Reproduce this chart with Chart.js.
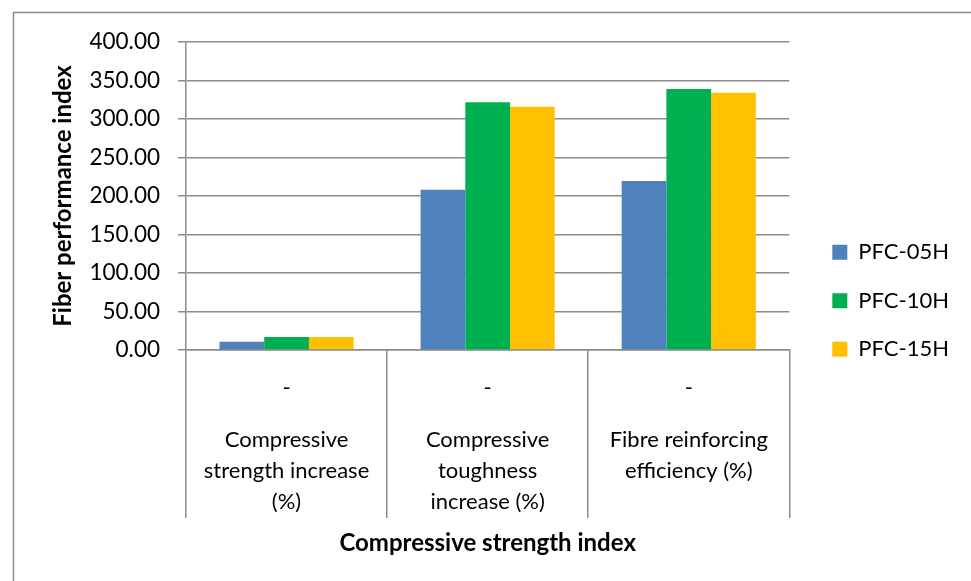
<!DOCTYPE html>
<html>
<head>
<meta charset="utf-8">
<script src="https://cdn.jsdelivr.net/npm/chart.js@4/dist/chart.umd.min.js"></script>
<style>
  html, body { margin: 0; padding: 0; background: #ffffff; }
  #wrap { width: 971px; height: 581px; position: relative; }
</style>
</head>
<body>
<div id="wrap"><canvas id="chart" width="971" height="581"></canvas></div>
<script>
// Upper label row of the category axis
const groupLabels = ['-', '-', '-'];
// Lower label row of the category axis
const categories = [
  ['Compressive', 'strength increase', '(%)'],
  ['Compressive', 'toughness', 'increase (%)'],
  ['Fibre reinforcing', 'efficiency (%)']
];
const seriesNames = ['PFC-05H', 'PFC-10H', 'PFC-15H'];
const pfc05h = [10.7, 208.0, 219.6];
const pfc10h = [17.0, 321.6, 339.0];
const pfc15h = [17.0, 316.0, 334.2];
const yMin = 0, yMax = 400, yStep = 50;
const xTitle = 'Compressive strength index';
const yTitle = 'Fiber performance index';

const FONT = 'Lato, "Open Sans", sans-serif';
const GRID = '#8c8c8c';

// Thin frame around the whole chart (top and left edges)
const framePlugin = {
  id: 'frame',
  beforeDraw(chart) {
    const ctx = chart.ctx;
    ctx.save();
    ctx.strokeStyle = GRID;
    ctx.lineWidth = 1.5;
    ctx.beginPath();
    ctx.moveTo(13.5, 581);
    ctx.lineTo(13.5, 12.5);
    ctx.lineTo(971, 12.5);
    ctx.stroke();
    ctx.restore();
  }
};

new Chart(document.getElementById('chart'), {
  type: 'bar',
  data: {
    labels: groupLabels,
    datasets: [
      { label: seriesNames[0], data: pfc05h, backgroundColor: '#4F81BD' },
      { label: seriesNames[1], data: pfc10h, backgroundColor: '#00B050' },
      { label: seriesNames[2], data: pfc15h, backgroundColor: '#FFC000' }
    ]
  },
  options: {
    responsive: false,
    devicePixelRatio: 1,
    animation: false,
    layout: { padding: { left: 20, top: 42, bottom: 21.4, right: 12 } },
    datasets: { bar: { categoryPercentage: 0.667, barPercentage: 1.0, borderWidth: 0 } },
    plugins: {
      tooltip: { enabled: false },
      legend: {
        position: 'right',
        labels: {
          boxWidth: 15, boxHeight: 15, padding: 26.5,
          color: '#000', font: { family: FONT, size: 22 }
        }
      }
    },
    scales: {
      x: {
        type: 'category',
        position: 'bottom',
        weight: 0,
        offset: true,
        grid: { offset: true, drawOnChartArea: false, tickLength: 168, color: GRID, lineWidth: 1.5 },
        border: { color: GRID, width: 1.5 },
        ticks: { color: '#000', padding: -143.2, maxRotation: 0, autoSkip: false, font: { family: FONT, size: 22 } },
        afterFit(scale) { scale.height = 51.2; }
      },
      x2: {
        type: 'category',
        position: 'bottom',
        weight: 1,
        labels: categories,
        offset: true,
        grid: { display: false, drawTicks: false },
        border: { display: false },
        ticks: { color: '#000', padding: 23.3, maxRotation: 0, autoSkip: false, font: { family: FONT, size: 22, lineHeight: 31 / 22 } },
        title: {
          display: true, text: xTitle, color: '#000',
          font: { family: FONT, size: 24, weight: 'bold' },
          padding: { top: 10, bottom: 2.2 }
        },
        afterFit(scale) { scale.height = 158.4; }
      },
      y: {
        type: 'linear',
        position: 'left',
        min: yMin, max: yMax,
        grid: { color: GRID, lineWidth: 1.5, tickLength: 8 },
        border: { color: GRID, width: 1.5 },
        ticks: {
          stepSize: yStep, padding: 18, color: '#000',
          font: { family: FONT, size: 22.5 },
          callback: v => Number(v).toFixed(2)
        },
        title: {
          display: true, text: yTitle, color: '#000',
          font: { family: FONT, size: 24, weight: 'bold' },
          padding: { top: 28.6, bottom: 0 }
        },
        afterFit(scale) { scale.width = 166; }
      },
      gap: {
        type: 'linear',
        position: 'right',
        display: true,
        grid: { display: false, drawTicks: false },
        border: { display: false },
        ticks: { display: false },
        afterFit(scale) { scale.width = 16.5; }
      }
    }
  },
  plugins: [framePlugin]
});
</script>
</body>
</html>
